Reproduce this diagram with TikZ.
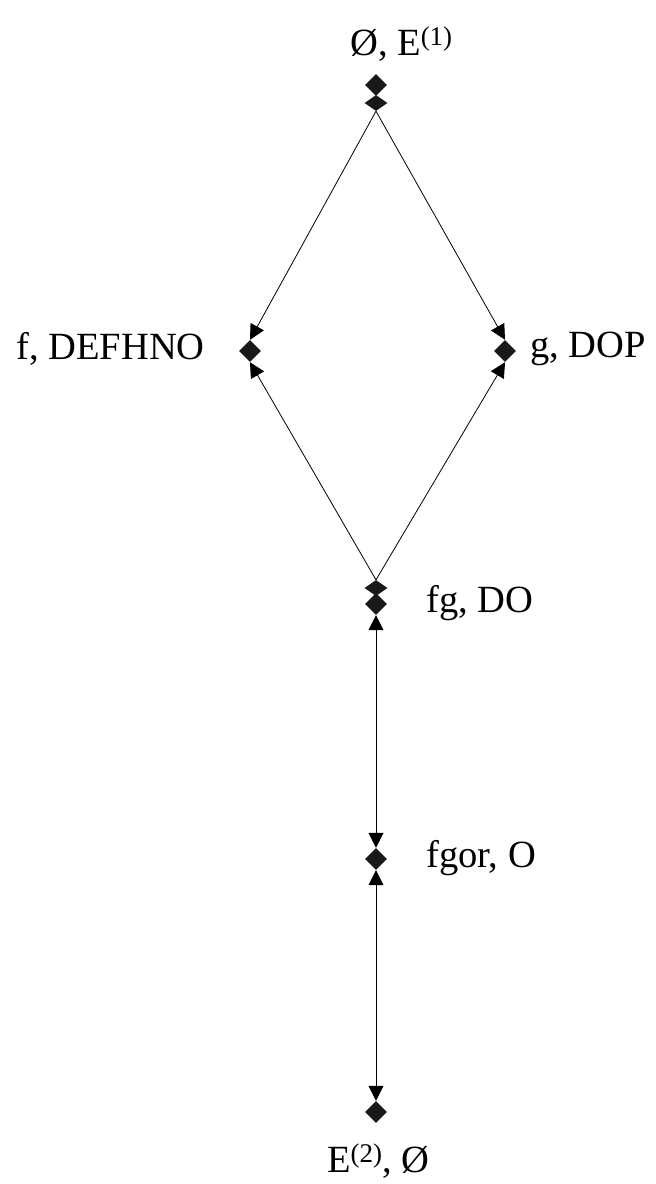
\documentclass[tikz,border=0pt]{standalone}
\usepackage{fontspec}
\setmainfont{Liberation Serif}
\usetikzlibrary{shapes.geometric,arrows.meta}
\begin{document}
\begin{tikzpicture}[x=1pt,y=-1pt,
  vtx/.style={diamond,aspect=1,minimum size=22pt,inner sep=0pt,fill=black!90,draw=none},
  tailmark/.style={diamond,minimum width=23pt,minimum height=16pt,inner sep=0pt,fill=black!90,draw=none},
  lbl/.style={inner sep=0pt,font=\fontsize{38.5}{46}\selectfont},
  dirarrow/.style={line width=0.8pt,-{Triangle[length=15pt,width=15pt]}},
  twoarrow/.style={line width=0.8pt,{Triangle[length=15pt,width=15pt]}-{Triangle[length=15pt,width=15pt]}}]
\useasboundingbox (0,0) rectangle (656,1184);
\node[vtx] (top) at (376,85) {};
\node[vtx] (f) at (250,351) {};
\node[vtx] (g) at (505,351) {};
\node[vtx] (fg) at (376,604) {};
\node[vtx] (fgor) at (376,859) {};
\node[vtx] (bot) at (376,1112) {};
\node[tailmark] (toptail) at (376,103) {};
\node[tailmark] (fgtail) at (376,588) {};
\node[lbl,anchor=base west] (ltop) at (350,55) {Ø, E\textsuperscript{(1)}};
\node[lbl,anchor=east] (lf) at (205,349) {f, DEFHNO};
\node[lbl,anchor=west] (lg) at (530,349) {g, DOP};
\node[lbl,anchor=west] (lfg) at (426,603) {fg, DO};
\node[lbl,anchor=west] (lfgor) at (426,858) {fgor, O};
\node[lbl,anchor=base west] (lbot) at (327,1172) {E\textsuperscript{(2)}, Ø};
\draw[dirarrow] (toptail.south) -- (f.north);
\draw[dirarrow] (toptail.south) -- (g.north);
\draw[dirarrow] (fgtail.north) -- (f.south);
\draw[dirarrow] (fgtail.north) -- (g.south);
\draw[twoarrow] (fg) -- (fgor);
\draw[twoarrow] (fgor) -- (bot);
\end{tikzpicture}
\end{document}
